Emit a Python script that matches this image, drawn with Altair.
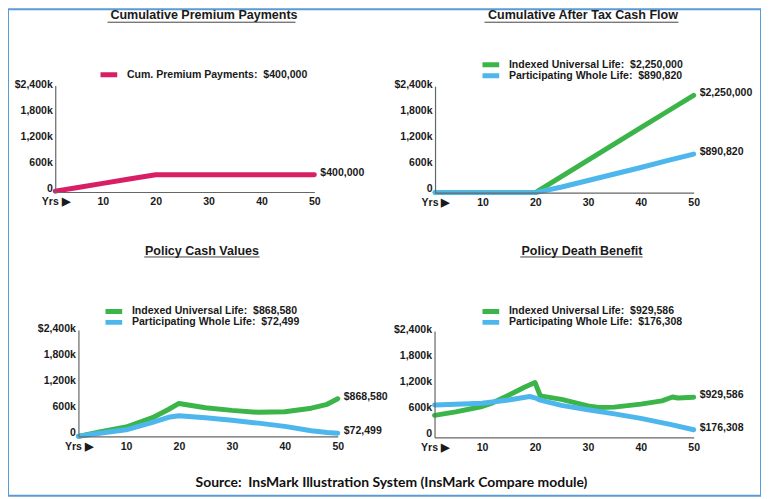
import altair as alt
import pandas as pd

# ---------------- data ----------------
prem_years = [1, 5, 10, 15, 20, 25, 30, 35, 40, 45, 50]
prem_values = [20000, 100000, 200000, 300000, 400000, 400000, 400000, 400000, 400000, 400000, 400000]

cf_years = [1, 5, 10, 15, 20, 25, 30, 35, 40, 45, 50]
cf_iul = [0, 0, 0, 0, 0, 375000, 750000, 1125000, 1500000, 1875000, 2250000]
cf_pwl = [0, 0, 0, 0, 0, 130000, 280000, 430000, 580000, 740000, 890820]

cv_years = [1, 5, 10, 15, 18, 20, 25, 30, 35, 40, 45, 48, 50]
cv_iul = [0, 100000, 215000, 430000, 620000, 760000, 660000, 600000, 555000, 570000, 650000, 740000, 868580]
cv_pwl = [0, 70000, 150000, 320000, 440000, 475000, 430000, 370000, 305000, 230000, 130000, 90000, 72499]

db_iul_years = [1, 5, 10, 12, 15, 18, 20, 21, 25, 30, 32, 35, 40, 44, 46, 47, 50]
db_iul = [510000, 590000, 715000, 800000, 975000, 1160000, 1270000, 960000, 880000, 730000,
          690000, 700000, 770000, 845000, 935000, 910000, 929586]
db_pwl_years = [1, 5, 10, 15, 19, 20, 21, 25, 30, 35, 40, 46, 50]
db_pwl = [750000, 765000, 790000, 865000, 945000, 915000, 860000, 740000, 640000, 545000,
          440000, 290000, 176308]

x_ticks = [1, 10, 20, 30, 40, 50]
y_ticks = [0, 600000, 1200000, 1800000, 2400000]

PREM = "Cum. Premium Payments"
IUL = "Indexed Universal Life"
PWL = "Participating Whole Life"

titles = ["Cumulative Premium Payments", "Cumulative After Tax Cash Flow",
          "Policy Cash Values", "Policy Death Benefit"]
source = "Source:\u00a0 InsMark Illustration System (InsMark Compare module)"

PINK, GREEN, BLUE = "#D81F66", "#3BB54A", "#4DB6EC"
FONT = "Liberation Sans"
TXT = "#1a1a1a"
W, H = 757, 489
YMAX = 2460000


def lab(name, vals):
    return f"{name}:\u00a0 ${vals[-1]:,}"


def long_df(series):
    rows = []
    for name, years, vals in series:
        for yr, v in zip(years, vals):
            rows.append({"year": yr, "value": v, "series": name})
    return pd.DataFrame(rows)


def panel(series, colors, title, xr, yr, lx, ly, tpad):
    df = long_df(series)
    labels = [s[0] for s in series]
    xs = alt.Scale(domain=[1, 50], range=xr, nice=False, zero=False)
    ys = alt.Scale(domain=[0, YMAX], range=yr, nice=False, zero=False)
    x_axis = alt.Axis(values=x_ticks, orient="bottom", offset=yr[0] - H,
                      labelExpr="datum.value == 1 ? 'Yrs \u25b6' : datum.label",
                      grid=False, ticks=False, labelPadding=5, labelFlush=False,
                      labelOverlap=False, domainColor="#666", domainWidth=1.2,
                      labelFont=FONT, labelFontWeight="bold", labelFontSize=10.6,
                      labelColor=TXT, title=None, zindex=1)
    y_axis = alt.Axis(values=y_ticks, orient="left", offset=-xr[0],
                      labelExpr="datum.value == 0 ? '0' : (datum.value == 2400000 ? '$' : '') + format(datum.value / 1000, ',') + 'k'",
                      grid=False, ticks=False, labelPadding=3, labelFlush=False,
                      labelOverlap=False, labelOffset=-4, domainColor="#666", domainWidth=1.2,
                      labelFont=FONT, labelFontWeight="bold", labelFontSize=10.6,
                      labelColor=TXT, title=None, zindex=1)
    legend = alt.Legend(title=title, orient="none", legendX=lx, legendY=ly,
                        direction="vertical", padding=0, rowPadding=0, clipHeight=10.3,
                        symbolType="M-4.6,0L4.6,0", symbolSize=25, symbolStrokeWidth=5,
                        labelOffset=16, labelFont=FONT, labelFontWeight="bold",
                        labelFontSize=10.6, labelColor=TXT, labelLimit=400,
                        titleFont=FONT, titleFontWeight="bold", titleFontSize=12.6,
                        titleColor=TXT, titleAnchor="middle", titlePadding=tpad,
                        titleLimit=400)
    line = alt.Chart(df).mark_line(strokeWidth=5, strokeCap="round", strokeJoin="round").encode(
        x=alt.X("year:Q", scale=xs, axis=x_axis),
        y=alt.Y("value:Q", scale=ys, axis=y_axis),
        color=alt.Color("series:N", scale=alt.Scale(domain=labels, range=colors), legend=legend),
    )
    text = alt.Chart(df).transform_filter("datum.year == 50").mark_text(
        align="left", baseline="middle", dx=6, dy=-2, font=FONT, fontWeight="bold",
        fontSize=10.6, color=TXT).encode(
        x=alt.X("year:Q", scale=xs, axis=None),
        y=alt.Y("value:Q", scale=ys, axis=None),
        text=alt.Text("value:Q", format="$,.0f"),
    )
    return [line, text]


p1 = panel([(lab(PREM, prem_values), prem_years, prem_values)], [PINK], titles[0],
           [47.5, 308], [183.7, 76.7], 93, 0, 48)
p2 = panel([(lab(IUL, cf_iul), cf_years, cf_iul), (lab(PWL, cf_pwl), cf_years, cf_pwl)],
           [GREEN, BLUE], titles[1], [429.3, 689.3], [184.3, 77.3], 477, 0, 38)
p3 = panel([(lab(IUL, cv_iul), cv_years, cv_iul), (lab(PWL, cv_pwl), cv_years, cv_pwl)],
           [GREEN, BLUE], titles[2], [70.8, 331.5], [429.3, 322.3], 98, 237, 49)
p4 = panel([(lab(IUL, db_iul), db_iul_years, db_iul), (lab(PWL, db_pwl), db_pwl_years, db_pwl)],
           [GREEN, BLUE], titles[3], [428.8, 689.3], [430.4, 323.4], 477, 237, 49)


def underline(x1, x2, y):
    return alt.Chart(pd.DataFrame({"u": [0]})).mark_rule(color="#444", strokeWidth=1).encode(
        x=alt.value(x1), x2=alt.value(x2), y=alt.value(y))


chart = alt.layer(
    *p1, *p2, *p3, *p4,
    underline(100, 289, 13), underline(479, 674, 13),
    underline(137, 253, 249), underline(515, 638, 249),
).resolve_scale(x="independent", y="independent", color="independent").properties(
    width=W, height=H, padding=0,
    autosize=alt.AutoSizeParams(type="none"),
    title=alt.TitleParams(source, orient="bottom", anchor="middle", frame="group",
                          offset=-20, dx=7, font="Lato", fontSize=14, fontWeight="bold",
                          color="#111"),
).configure_view(stroke="#5B9BD5", strokeWidth=2)

chart.save("out.html", embed_options={"renderer": "svg", "actions": False})
